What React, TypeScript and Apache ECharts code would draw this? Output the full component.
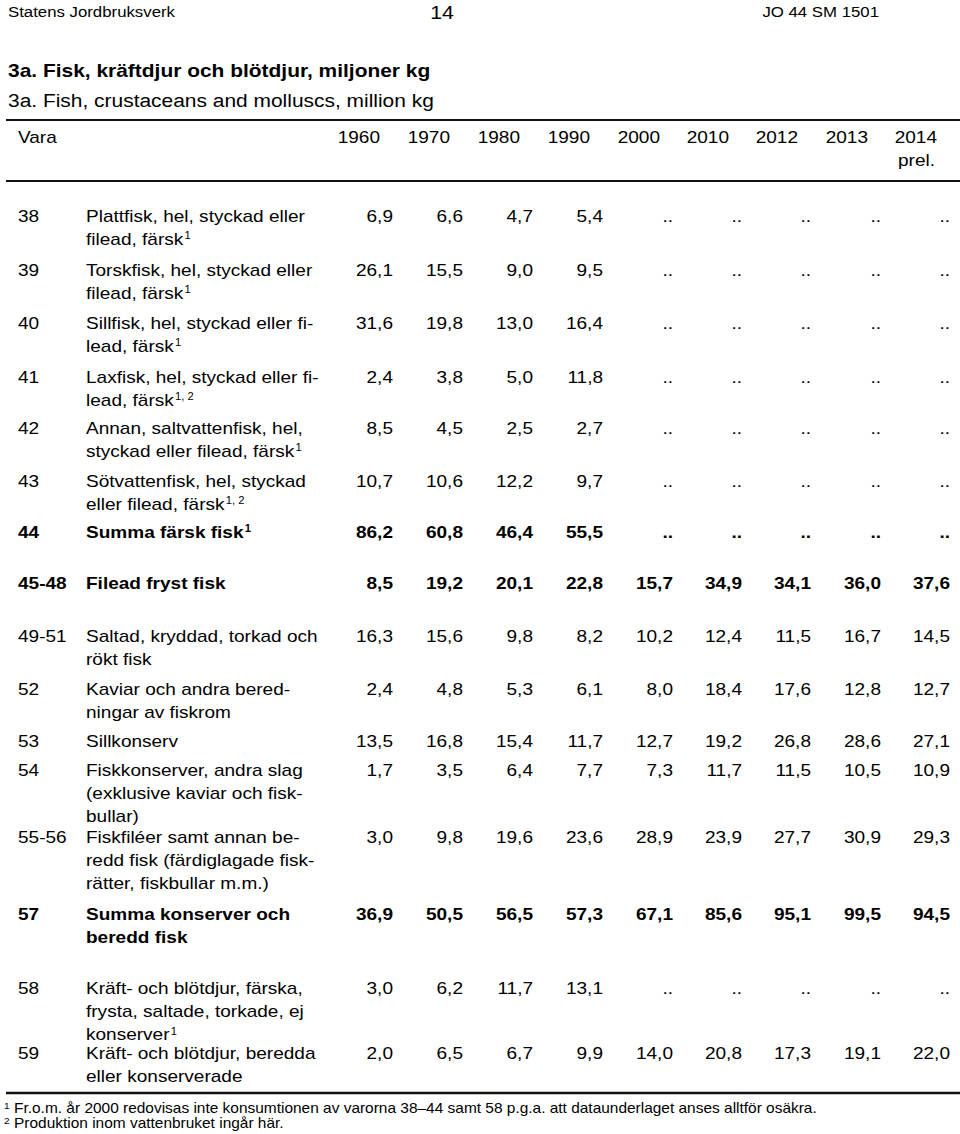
import React, { useEffect, useRef } from "react";
import * as echarts from "echarts";

// ---- data ----
const years = ["1960", "1970", "1980", "1990", "2000", "2010", "2012", "2013", "2014"];
const yearNote = "prel.";
const codes = ["38", "39", "40", "41", "42", "43", "44", "45-48", "49-51", "52", "53", "54", "55-56", "57", "58", "59"];
const descriptions: string[][] = [
  ["Plattfisk, hel, styckad eller", "filead, färsk{s|1}"],
  ["Torskfisk, hel, styckad eller", "filead, färsk{s|1}"],
  ["Sillfisk, hel, styckad eller fi-", "lead, färsk{s|1}"],
  ["Laxfisk, hel, styckad eller fi-", "lead, färsk{s|1, 2}"],
  ["Annan, saltvattenfisk, hel,", "styckad eller filead, färsk{s|1}"],
  ["Sötvattenfisk, hel, styckad", "eller filead, färsk{s|1, 2}"],
  ["Summa färsk fisk{sb|1}"],
  ["Filead fryst fisk"],
  ["Saltad, kryddad, torkad och", "rökt fisk"],
  ["Kaviar och andra bered-", "ningar av fiskrom"],
  ["Sillkonserv"],
  ["Fiskkonserver, andra slag", "(exklusive kaviar och fisk-", "bullar)"],
  ["Fiskfiléer samt annan be-", "redd fisk (färdiglagade fisk-", "rätter, fiskbullar m.m.)"],
  ["Summa konserver och", "beredd fisk"],
  ["Kräft- och blötdjur, färska,", "frysta, saltade, torkade, ej", "konserver{s|1}"],
  ["Kräft- och blötdjur, beredda", "eller konserverade"],
];
const boldRows = ["44", "45-48", "57"];

const v38 = [6.9, 6.6, 4.7, 5.4, null, null, null, null, null];
const v39 = [26.1, 15.5, 9.0, 9.5, null, null, null, null, null];
const v40 = [31.6, 19.8, 13.0, 16.4, null, null, null, null, null];
const v41 = [2.4, 3.8, 5.0, 11.8, null, null, null, null, null];
const v42 = [8.5, 4.5, 2.5, 2.7, null, null, null, null, null];
const v43 = [10.7, 10.6, 12.2, 9.7, null, null, null, null, null];
const v44 = [86.2, 60.8, 46.4, 55.5, null, null, null, null, null];
const v45_48 = [8.5, 19.2, 20.1, 22.8, 15.7, 34.9, 34.1, 36.0, 37.6];
const v49_51 = [16.3, 15.6, 9.8, 8.2, 10.2, 12.4, 11.5, 16.7, 14.5];
const v52 = [2.4, 4.8, 5.3, 6.1, 8.0, 18.4, 17.6, 12.8, 12.7];
const v53 = [13.5, 16.8, 15.4, 11.7, 12.7, 19.2, 26.8, 28.6, 27.1];
const v54 = [1.7, 3.5, 6.4, 7.7, 7.3, 11.7, 11.5, 10.5, 10.9];
const v55_56 = [3.0, 9.8, 19.6, 23.6, 28.9, 23.9, 27.7, 30.9, 29.3];
const v57 = [36.9, 50.5, 56.5, 57.3, 67.1, 85.6, 95.1, 99.5, 94.5];
const v58 = [3.0, 6.2, 11.7, 13.1, null, null, null, null, null];
const v59 = [2.0, 6.5, 6.7, 9.9, 14.0, 20.8, 17.3, 19.1, 22.0];
const rowValues = [v38, v39, v40, v41, v42, v43, v44, v45_48, v49_51, v52, v53, v54, v55_56, v57, v58, v59];

const pageHeaderLeft = "Statens Jordbruksverk";
const pageNumber = "14";
const pageHeaderRight = "JO 44 SM 1501";
const titleSv = "3a. Fisk, kräftdjur och blötdjur, miljoner kg";
const titleEn = "3a. Fish, crustaceans and molluscs, million kg";
const headerLabel = "Vara";
const footnotes = [
  "{s|1} Fr.o.m. år 2000 redovisas inte konsumtionen av varorna 38–44 samt 58 p.g.a. att dataunderlaget anses alltför osäkra.",
  "{s|2} Produktion inom vattenbruket ingår här.",
];

// ---- layout ----
const FONT = "'Liberation Sans', Arial, Helvetica, sans-serif";
const FS = 17;
const SX = 1.12;
const LINE_H = 23.2;
const colRight = [393, 463, 533, 603, 673, 742, 811, 881, 950];
const headerShift = 13;
const rowY = [216, 270, 323, 377, 428, 481, 532, 583, 636, 689, 741, 770, 837, 914, 988, 1053];
const codeX = 18;
const descX = 86;

const fmt = (v: number | null) => (v === null ? ".." : v.toFixed(1).replace(".", ","));

function App() {
  const ref = useRef<HTMLDivElement>(null);
  useEffect(() => {
    if (!ref.current) return;
    const chart = echarts.init(ref.current, null, { renderer: "svg" });
    const els: any[] = [];
    const rich = (supSize: number) => ({
      s: { fontSize: supSize, fontFamily: FONT, verticalAlign: "top", fill: "#000", padding: [0, 0, 0, 1] },
      sb: { fontSize: supSize, fontFamily: FONT, fontWeight: "bold", verticalAlign: "top", fill: "#000", padding: [0, 0, 0, 1] },
    });
    const txt = (text: string, x: number, y: number, opts: any = {}) => {
      const size = opts.size ?? FS;
      els.push({
        type: "text",
        x,
        y,
        scaleX: SX,
        silent: true,
        style: {
          text,
          fill: "#000",
          fontFamily: FONT,
          fontSize: size,
          fontWeight: opts.bold ? "bold" : "normal",
          align: opts.align ?? "left",
          verticalAlign: "middle",
          rich: rich(opts.supSize ?? 10),
        },
      });
    };
    const hline = (y: number, w: number) => {
      els.push({ type: "line", silent: true, shape: { x1: 6, y1: y, x2: 960, y2: y }, style: { stroke: "#111", lineWidth: w } });
    };

    // page header
    txt(pageHeaderLeft, 8, 12, { size: 15 });
    txt(pageNumber, 442, 12, { size: 19, align: "center" });
    txt(pageHeaderRight, 879, 12, { size: 15, align: "right" });
    // titles
    txt(titleSv, 8, 70, { size: 18.7, bold: true });
    txt(titleEn, 8, 100, { size: 18.7 });
    // header
    hline(120, 2);
    txt(headerLabel, codeX, 137);
    years.forEach((yr, i) => txt(yr, colRight[i] - headerShift, 137, { align: "right" }));
    txt(yearNote, colRight[8] - headerShift - 2, 160, { align: "right" });
    hline(181, 2);

    // body
    codes.forEach((code, r) => {
      const bold = boldRows.includes(code);
      const y0 = rowY[r];
      txt(code, codeX, y0, { bold });
      descriptions[r].forEach((line, k) => txt(line, descX, y0 + k * LINE_H, { bold }));
      rowValues[r].forEach((v, c) => txt(fmt(v), colRight[c], y0, { bold, align: "right" }));
    });

    hline(1093, 2.5);
    footnotes.forEach((f, i) => txt(f, 3, 1108 + i * 15, { size: 13.8, supSize: 9 }));

    chart.setOption({
      animation: false,
      backgroundColor: "#fff",
      graphic: { elements: els },
    });
    return () => chart.dispose();
  }, []);
  return <div ref={ref} style={{ position: "absolute", left: 0, top: 0, width: 960, height: 1134 }} />;
}

export default App;
